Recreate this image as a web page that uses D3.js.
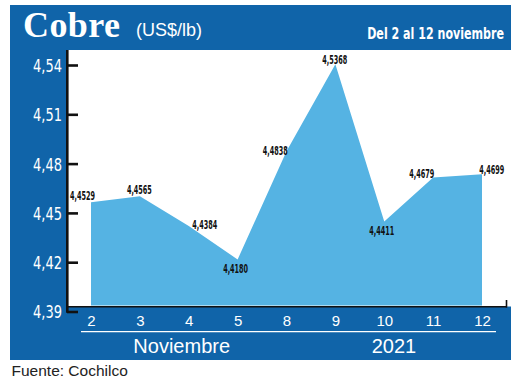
<!DOCTYPE html>
<html>
<head>
<meta charset="utf-8">
<script src="https://cdn.jsdelivr.net/npm/d3@7"></script>
<style>
  html, body { margin: 0; padding: 0; background: #ffffff; }
  svg { display: block; }
</style>
</head>
<body>
<svg id="chart" width="520" height="385"></svg>
<script>
// ---- data ----
const categories = ["2", "3", "4", "5", "8", "9", "10", "11", "12"];
const values = [4.4529, 4.4565, 4.4384, 4.4180, 4.4838, 4.5368, 4.4411, 4.4679, 4.4699];
const valueLabels = ["4,4529", "4,4565", "4,4384", "4,4180", "4,4838", "4,5368", "4,4411", "4,4679", "4,4699"];
const yTicks = [4.39, 4.42, 4.45, 4.48, 4.51, 4.54];
const yTickLabels = ["4,39", "4,42", "4,45", "4,48", "4,51", "4,54"];
// label placement offsets (px) relative to each point
const labelDx = [-8.5, -0.5, 16, -2, -11.3, -0.7, -2.5, -11.3, 9.7];
const labelDy = [-2.6, -2.7, 3, 13.5, 3.6, -0.3, 13.5, 0.5, -0.2];

const darkBlue = "#1064a9";
const lightBlue = "#55b3e3";
const narrow = "'Liberation Sans Narrow', 'DejaVu Sans Condensed', 'Liberation Sans', sans-serif";
const sans = "'Liberation Sans', Arial, sans-serif";

const svg = d3.select("#chart");

// horizontally condense a text element around its anchor point
function squeeze(sel, factor) {
  sel.each(function () {
    const t = d3.select(this);
    const tx = +t.attr("x") || 0, ty = +t.attr("y") || 0;
    t.attr("transform", `translate(${tx},${ty}) scale(${factor},1) translate(${-tx},${-ty})`);
  });
}
function fitFactor(sel, target) {
  const w = sel.node().getComputedTextLength();
  return w > 0 ? target / w : 1;
}

// frame
svg.append("rect").attr("x", 10).attr("y", 5).attr("width", 501).attr("height", 355).attr("fill", darkBlue);
svg.append("rect").attr("x", 66).attr("y", 50).attr("width", 445).attr("height", 256.5).attr("fill", "#ffffff");

// scales
const x = d3.scalePoint().domain(categories).range([91, 482]);
const y = d3.scaleLinear().domain([4.39, 4.54]).range([311.5, 65]);

// area
const areaG = svg.append("g").attr("transform", "translate(0,-6)");
const area = d3.area()
  .x((d, i) => x(categories[i]))
  .y0(y(4.39))
  .y1(d => y(d));
areaG.append("path").datum(values).attr("d", area).attr("fill", lightBlue);

// value labels
const vl = areaG.selectAll("text.val").data(values).enter().append("text")
  .attr("class", "val")
  .attr("x", (d, i) => x(categories[i]) + labelDx[i])
  .attr("y", (d, i) => y(d) + labelDy[i])
  .attr("text-anchor", "middle")
  .attr("font-family", narrow)
  .attr("font-weight", "bold")
  .attr("font-size", 12.3)
  .attr("fill", "#111")
  .text((d, i) => valueLabels[i]);
squeeze(vl, fitFactor(vl, 25));

// bottom baseline
svg.append("line").attr("x1", 67).attr("x2", 507).attr("y1", 306.8).attr("y2", 306.8)
  .attr("stroke", "#111").attr("stroke-width", 1.6);
svg.append("line").attr("x1", 506.5).attr("x2", 506.5).attr("y1", 300).attr("y2", 307.5)
  .attr("stroke", "#111").attr("stroke-width", 1.6);

// y axis
const yAxis = d3.axisLeft(y).tickValues(yTicks).tickFormat((d, i) => yTickLabels[i]).tickSize(0);
const yg = svg.append("g").attr("transform", "translate(67,0)").call(yAxis);
yg.select(".domain").remove();
yg.selectAll(".tick line").remove();
yg.selectAll(".tick").append("line").attr("x1", 0).attr("x2", 11).attr("stroke", "#111").attr("stroke-width", 2.6);
const ytx = yg.selectAll(".tick text")
  .attr("x", -5).attr("dy", "0.36em")
  .attr("fill", "#ffffff")
  .attr("font-family", narrow)
  .attr("font-size", 18);
squeeze(ytx, fitFactor(ytx, 29));
svg.append("line").attr("x1", 67.3).attr("x2", 67.3).attr("y1", 50).attr("y2", 312.8)
  .attr("stroke", "#111").attr("stroke-width", 2.6);

// x axis labels
const xAxis = d3.axisBottom(x).tickSize(0);
const xg = svg.append("g").attr("transform", "translate(0,312)").call(xAxis);
xg.select(".domain").remove();
xg.selectAll(".tick text")
  .attr("y", 0).attr("dy", "0.95em")
  .attr("fill", "#ffffff")
  .attr("font-family", sans)
  .attr("font-size", 15);

// underline
svg.append("line").attr("x1", 81).attr("x2", 496).attr("y1", 331.7).attr("y2", 331.7)
  .attr("stroke", "#ffffff").attr("stroke-width", 1.3);

svg.append("text").attr("x", 181.7).attr("y", 352.5).attr("text-anchor", "middle")
  .attr("font-family", sans).attr("font-size", 20).attr("fill", "#ffffff").text("Noviembre");
svg.append("text").attr("x", 394).attr("y", 352.5).attr("text-anchor", "middle")
  .attr("font-family", sans).attr("font-size", 20).attr("fill", "#ffffff").text("2021");

// titles
svg.append("text").attr("x", 23).attr("y", 37)
  .attr("font-family", "'Liberation Serif', 'DejaVu Serif', serif").attr("font-weight", "bold")
  .attr("font-size", 36).attr("letter-spacing", 0.4).attr("fill", "#ffffff").text("Cobre");
svg.append("text").attr("x", 136).attr("y", 36)
  .attr("font-family", sans).attr("font-size", 18).attr("fill", "#ffffff").text("(US$/lb)");
const sub = svg.append("text").attr("x", 504).attr("y", 39).attr("text-anchor", "end")
  .attr("font-family", narrow).attr("font-weight", "bold")
  .attr("font-size", 16.5).attr("fill", "#ffffff").text("Del 2 al 12 noviembre");
squeeze(sub, fitFactor(sub, 137));

// source
svg.append("text").attr("x", 11.5).attr("y", 376)
  .attr("font-family", sans).attr("font-size", 15.5).attr("fill", "#222").text("Fuente: Cochilco");
</script>
</body>
</html>
